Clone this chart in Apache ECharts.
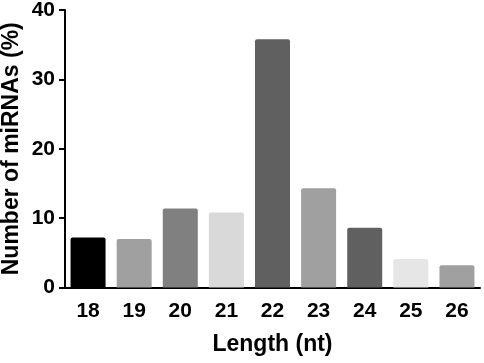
<!DOCTYPE html>
<html>
<head>
<meta charset="utf-8">
<script src="https://cdn.jsdelivr.net/npm/echarts@6/dist/echarts.min.js"></script>
<style>
  html, body { margin: 0; padding: 0; background: #fff; }
  #chart { width: 484px; height: 363px; }
</style>
</head>
<body>
<div id="chart"></div>
<script>
var lengths = ['18', '19', '20', '21', '22', '23', '24', '25', '26'];
var percents = [7.2, 7.0, 11.4, 10.8, 35.8, 14.3, 8.6, 4.1, 3.2];
var barColors = ['#000000', '#a0a0a0', '#808080', '#d9d9d9', '#606060', '#a0a0a0', '#606060', '#e6e6e6', '#a0a0a0'];
var yTicks = [0, 10, 20, 30, 40];

var font = '"Liberation Sans", Arial, sans-serif';
var chart = echarts.init(document.getElementById('chart'));

chart.setOption({
    animation: false,
    grid: {
        left: 65,
        right: 4,
        top: 10,
        bottom: 75.5,
        outerBoundsMode: 'none'
    },
    xAxis: {
        type: 'category',
        data: lengths,
        name: 'Length (nt)',
        nameLocation: 'middle',
        nameGap: 46,
        nameMoveOverlap: false,
        nameTextStyle: { fontFamily: font, fontWeight: 'bold', fontSize: 23, color: '#000' },
        axisLine: { lineStyle: { color: '#000', width: 2 } },
        axisTick: { alignWithLabel: true, length: 6, lineStyle: { color: '#000', width: 2 } },
        axisLabel: { fontFamily: font, fontWeight: 'bold', fontSize: 21, color: '#000', margin: 13 }
    },
    yAxis: {
        type: 'value',
        min: yTicks[0],
        max: yTicks[yTicks.length - 1],
        interval: 10,
        name: 'Number of miRNAs (%)',
        nameLocation: 'middle',
        nameGap: 42,
        nameMoveOverlap: false,
        nameTextStyle: { fontFamily: font, fontWeight: 'bold', fontSize: 23, color: '#000' },
        splitLine: { show: false },
        axisLine: { show: true, lineStyle: { color: '#000', width: 2 } },
        axisTick: { show: true, length: 6, lineStyle: { color: '#000', width: 2 } },
        axisLabel: { fontFamily: font, fontWeight: 'bold', fontSize: 21, color: '#000', margin: 10 }
    },
    series: [{
        type: 'bar',
        barWidth: 35,
        data: percents.map(function (v, i) {
            return { value: v, itemStyle: { color: barColors[i] } };
        }),
        itemStyle: { borderRadius: [2, 2, 0, 0] }
    }]
});
</script>
</body>
</html>
